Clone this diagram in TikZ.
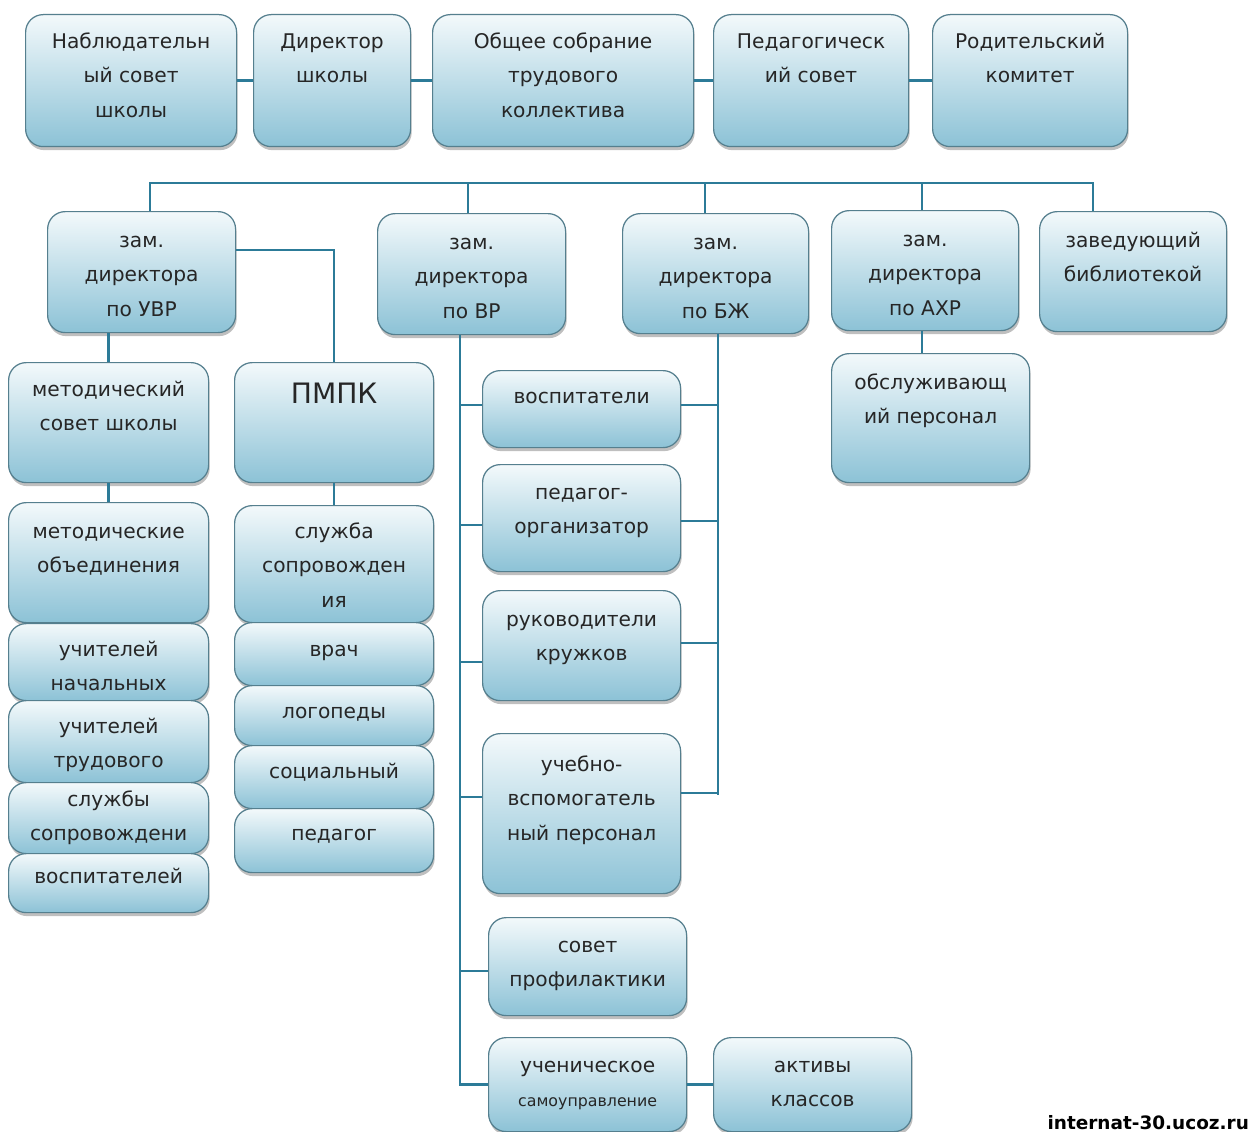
\documentclass[tikz,border=0pt]{standalone}
\usepackage{fontspec}
\setmainfont{DejaVu Sans}
\usetikzlibrary{shadows}
\definecolor{boxtop}{HTML}{F3F9FB}
\definecolor{boxbot}{HTML}{8CC2D6}
\definecolor{boxedge}{HTML}{557F8E}
\definecolor{linkcol}{HTML}{2C7B98}
\newlength{\pxu}
\setlength{\pxu}{0.02cm}
\newcommand{\orgtxt}[4][11]{\parbox[c][#3\pxu][t]{#2\pxu}{\centering\vspace*{#1\pxu}\strut#4}}

\begin{document}
\begin{tikzpicture}[x=0.02cm, y=-0.02cm,
	orgbox/.style={draw=boxedge, line width=0.7pt, rounded corners=10pt, top color=boxtop, bottom color=boxbot, inner sep=0pt, anchor=north west, text=black!85, drop shadow={shadow xshift=0.6pt, shadow yshift=-2pt, opacity=0.5}, font=\fontsize{11.5}{19.5}\selectfont},
	link/.style={draw=linkcol, line width=1.5pt}]
	\path[use as bounding box, fill=white] (0,0) rectangle (1251,1132);
	
	\node[orgbox] (nabl) at (25,14) {\orgtxt[10]{211}{132}{Наблюдательн\\ый совет\\школы}};
	\node[orgbox] (dir) at (253,14) {\orgtxt[10]{157}{132}{Директор\\школы}};
	\node[orgbox] (sobr) at (432,14) {\orgtxt[10]{261}{132}{Общее собрание\\трудового\\коллектива}};
	\node[orgbox] (pedsov) at (713,14) {\orgtxt[10]{195}{132}{Педагогическ\\ий совет}};
	\node[orgbox] (rod) at (932,14) {\orgtxt[10]{195}{132}{Родительский\\комитет}};
	
	\node[orgbox] (uvr) at (47,211) {\orgtxt[12]{188}{121}{зам.\\директора\\по УВР}};
	\node[orgbox] (vr) at (377,213) {\orgtxt[12]{188}{121}{зам.\\директора\\по ВР}};
	\node[orgbox] (bzh) at (622,213) {\orgtxt[12]{186}{120}{зам.\\директора\\по БЖ}};
	\node[orgbox] (ahr) at (831,210) {\orgtxt[12]{187}{120}{зам.\\директора\\по АХР}};
	\node[orgbox] (bib) at (1039,211) {\orgtxt[12]{187}{120}{заведующий\\библиотекой}};
	
	\node[orgbox] (metsov) at (8,362) {\orgtxt[10]{200}{120}{методический\\совет школы}};
	\node[orgbox] (metob) at (8,502) {\orgtxt[12]{200}{120}{методические\\объединения}};
	\node[orgbox] (uchnach) at (8,623) {\orgtxt[9]{200}{77}{учителей\\начальных}};
	\node[orgbox] (uchtrud) at (8,700) {\orgtxt[9]{200}{82}{учителей\\трудового}};
	\node[orgbox] (sluzhby) at (8,782) {\orgtxt[0]{200}{71}{службы\\сопровождени}};
	\node[orgbox] (vospl) at (8,853) {\orgtxt[6]{200}{59}{воспитателей}};
	
	\node[orgbox] (pmpk) at (234,362) {\orgtxt[17]{199}{120}{\fontsize{16}{19}\selectfont ПМПК}};
	\node[orgbox] (sluzhba) at (234,505) {\orgtxt[9]{199}{117}{служба\\сопровожден\\ия}};
	\node[orgbox] (vrach) at (234,622) {\orgtxt[10]{199}{63}{врач}};
	\node[orgbox] (logo) at (234,685) {\orgtxt[9]{199}{60}{логопеды}};
	\node[orgbox] (soc) at (234,745) {\orgtxt[9]{199}{63}{социальный}};
	\node[orgbox] (pedg) at (234,808) {\orgtxt[8]{199}{64}{педагог}};
	
	\node[orgbox] (vosp) at (482,370) {\orgtxt[9]{198}{77}{воспитатели}};
	\node[orgbox] (pedorg) at (482,464) {\orgtxt[11]{198}{107}{педагог-\\организатор}};
	\node[orgbox] (ruk) at (482,590) {\orgtxt[12]{198}{110}{руководители\\кружков}};
	\node[orgbox] (uchvsp) at (482,733) {\orgtxt[14]{198}{160}{учебно-\\вспомогатель\\ный персонал}};
	\node[orgbox] (sovprof) at (488,917) {\orgtxt[11]{198}{98}{совет\\профилактики}};
	\node[orgbox] (uchsam) at (488,1037) {\orgtxt[11]{198}{94}{ученическое\\{\fontsize{9}{16}\selectfont самоуправление}}};
	\node[orgbox] (aktiv) at (713,1037) {\orgtxt[11]{198}{94}{активы\\классов}};
	
	\node[orgbox] (obsl) at (831,353) {\orgtxt[12]{198}{129}{обслуживающ\\ий персонал}};
	
	\node[anchor=south east, inner sep=1pt, font=\bfseries\fontsize{10.5}{11}\selectfont] (wmark) at (1251,1132) {internat-30.ucoz.ru};
	
	\foreach \a/\b in {nabl/dir, dir/sobr, sobr/pedsov, pedsov/rod}
		\draw[link] (\a) -- (\b);
	
	\coordinate (busL) at (150,183);
	\coordinate (busR) at (1093,183);
	\draw[link] (uvr.north -| busL) -- (busL) -- (busR) -- (bib.north -| busR);
	\foreach \nd/\xx in {vr/468, bzh/705, ahr/922}
		\draw[link] (\nd.north -| \xx,0) -- (busL -| \xx,0);
	
	\draw[link] (uvr.east |- 0,250) -| (pmpk.north);
	\draw[link] (uvr.south -| metsov.north) -- (metsov.north);
	\draw[link] (metsov.south) -- (metob.north);
	\draw[link] (pmpk.south) -- (sluzhba.north);
	\draw[link] (ahr.south -| 922,0) -- (obsl.north -| 922,0);
	
	\coordinate (vrl) at (460,0);
	\draw[link] (vr.south -| vrl) |- (uchsam.west);
	\foreach \nd/\yy in {vosp/405, pedorg/525, ruk/662, uchvsp/797, sovprof/971}
		\draw[link] (\nd.west |- 0,\yy) -- (vrl |- 0,\yy);
	
	\coordinate (bzhl) at (718,0);
	\draw[link] (bzh.south -| bzhl) -- (bzhl |- 0,795);
	\foreach \nd/\yy in {vosp/405, pedorg/521, ruk/643, uchvsp/793}
		\draw[link] (\nd.east |- 0,\yy) -- (bzhl |- 0,\yy);
	
	\draw[link] (uchsam) -- (aktiv);
\end{tikzpicture}
\end{document}
